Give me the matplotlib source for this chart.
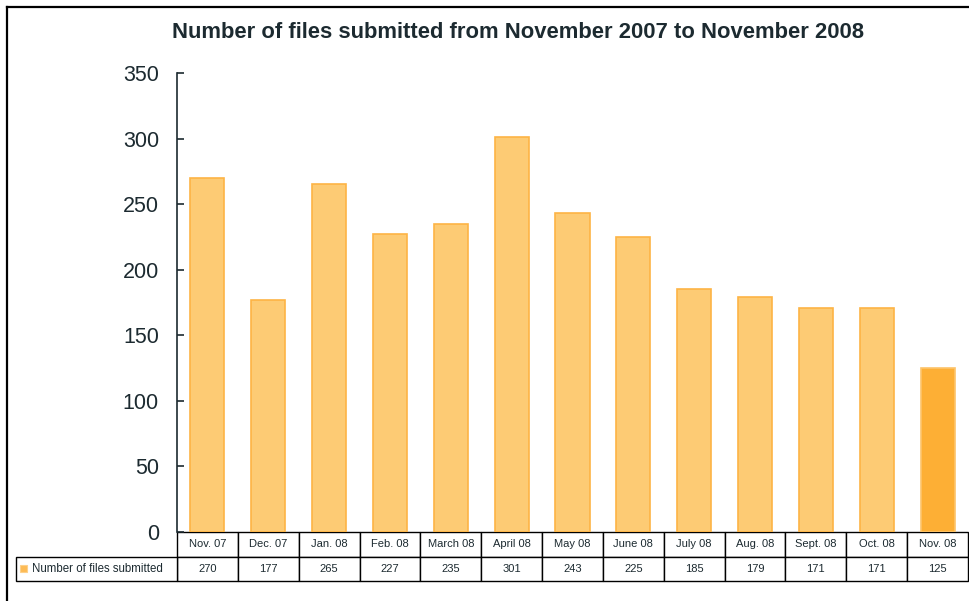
import matplotlib
matplotlib.use('Agg')
import matplotlib.pyplot as plt
from matplotlib.lines import Line2D
from matplotlib.patches import Rectangle

plt.rcParams['font.family'] = ['Liberation Sans', 'DejaVu Sans']

months = ['Nov. 07', 'Dec. 07', 'Jan. 08', 'Feb. 08', 'March 08', 'April 08', 'May 08',
          'June 08', 'July 08', 'Aug. 08', 'Sept. 08', 'Oct. 08', 'Nov. 08']
files = [270, 177, 265, 227, 235, 301, 243, 225, 185, 179, 171, 171, 125]
series_name = 'Number of files submitted'
title = 'Number of files submitted from November 2007 to November 2008'

fill = '#FDCB74'
edge = '#FDB445'
last_fill = '#FDAF35'
last_edge = '#FDC46A'
dark = '#1c2a30'

W, H = 969, 601
fig = plt.figure(figsize=(W / 100, H / 100), dpi=100)
ax = fig.add_axes([177 / W, 1 - 532 / H, 791 / W, 459 / H])

x = range(len(months))
colors = [fill] * (len(files) - 1) + [last_fill]
edges = [edge] * (len(files) - 1) + [last_edge]
ax.bar(x, files, width=0.56, color=colors, edgecolor=edges, linewidth=1.2)

ax.set_xlim(-0.5, len(months) - 0.5)
ax.set_ylim(0, 350)
ax.set_yticks(range(0, 351, 50))
ax.tick_params(axis='y', direction='in', length=5, width=1.2, pad=13,
               labelsize=15.5, colors=dark)
ax.set_xticks([])
for s in ['top', 'right', 'bottom']:
    ax.spines[s].set_visible(False)
ax.spines['left'].set_color(dark)
ax.spines['left'].set_linewidth(1.2)

# data table under the axis
hrow = 24.5 / 459
tbl = ax.table(cellText=[[str(v) for v in files]], colLabels=months,
               cellLoc='center', bbox=[0, -2 * hrow, 1, 2 * hrow])
tbl.auto_set_font_size(False)
tbl.set_fontsize(8)
for cell in tbl.get_celld().values():
    cell.set_linewidth(1.0)
    cell.set_edgecolor('black')
    cell.get_text().set_color(dark)

lw = 161 / 791
leg = ax.table(cellText=[['    ' + series_name]], cellLoc='left',
               bbox=[-lw, -2 * hrow, lw, hrow])
leg.auto_set_font_size(False)
leg.set_fontsize(8.3)
for cell in leg.get_celld().values():
    cell.set_linewidth(1.0)
    cell.get_text().set_color(dark)
    cell.PAD = 0.02
ax.add_patch(Rectangle((-lw + 4 / 791, -1.5 * hrow - 3.5 / 459), 7 / 791, 7 / 459,
                       transform=ax.transAxes, clip_on=False,
                       facecolor='#FDBB55', edgecolor='#FDD08A', linewidth=0.8))

fig.text(517.5 / W, 1 - 32 / H, title, ha='center', va='center',
         fontsize=15.8, fontweight='bold', color=dark)

# outer frame
fig.add_artist(Line2D([7 / W, 1], [1 - 7 / H, 1 - 7 / H], color='black', linewidth=1.6))
fig.add_artist(Line2D([7 / W, 7 / W], [0, 1 - 7 / H], color='black', linewidth=1.6))

fig.savefig('out.png', dpi=100)
